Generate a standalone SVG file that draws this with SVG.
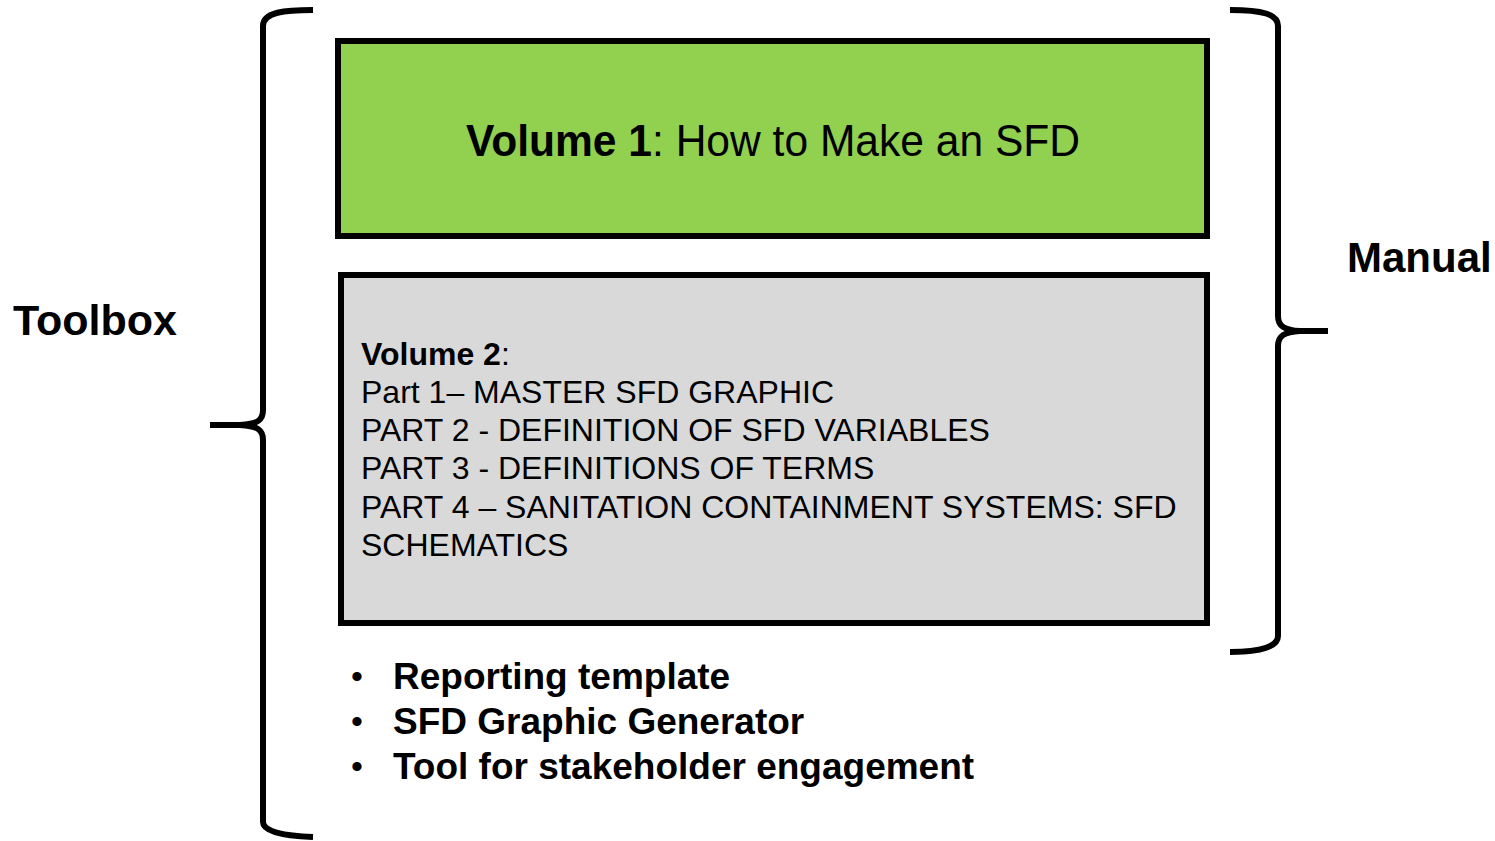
<svg xmlns="http://www.w3.org/2000/svg" width="1495" height="841" viewBox="0 0 1495 841">
<style>
.t{font-family:"Liberation Sans",Arial,sans-serif;fill:#000}
.b{font-weight:bold}
.box{stroke:#000;stroke-width:6}
.brace{fill:none;stroke:#000;stroke-width:6;stroke-linecap:butt;stroke-linejoin:round}
.v2{font-size:32px}
.bl{font-size:37px}
</style>
<rect width="1495" height="841" fill="#fff"/>
<g id="connectors">
<path class="brace" d="M313,10 C285,10 263,12 263,26 L263,410 C263,420 258,424 240,425 L210,425 M240,425 C258,426 263,430 263,440 L263,822 C263,832 285,836 313,837"/>
<path class="brace" d="M1230,10 C1262,10 1278,14 1278,26 L1278,316 C1278,326 1284,330 1300,331 L1328,331 M1300,331 C1284,332 1278,336 1278,346 L1278,636 C1278,646 1262,652 1230,652"/>
</g>
<g id="volume1">
<rect class="box" x="338" y="41" width="869" height="195" fill="#92d050"/>
<text class="t" x="466" y="156" font-size="44" textLength="614" lengthAdjust="spacingAndGlyphs"><tspan class="b">Volume 1</tspan>: How to Make an SFD</text>
</g>
<g id="volume2">
<rect class="box" x="341" y="275" width="866" height="348" fill="#d9d9d9"/>
<text class="t v2" x="361" y="365"><tspan class="b">Volume 2</tspan>:</text>
<text class="t v2" x="361" y="403">Part 1– MASTER SFD GRAPHIC</text>
<text class="t v2" x="361" y="441">PART 2 - DEFINITION OF SFD VARIABLES</text>
<text class="t v2" x="361" y="479">PART 3 - DEFINITIONS OF TERMS</text>
<text class="t v2" x="361" y="518">PART 4 – SANITATION CONTAINMENT SYSTEMS: SFD</text>
<text class="t v2" x="361" y="556">SCHEMATICS</text>
</g>
<g id="toolbox">
<text class="t b" x="13" y="335" font-size="43">Toolbox</text>
</g>
<g id="manual">
<text class="t b" x="1347" y="272" font-size="42">Manual</text>
</g>
<g id="tools">
<text class="t" x="351" y="688" font-size="34">•</text>
<text class="t b bl" x="393" y="689">Reporting template</text>
<text class="t" x="351" y="733" font-size="34">•</text>
<text class="t b bl" x="393" y="734">SFD Graphic Generator</text>
<text class="t" x="351" y="778" font-size="34">•</text>
<text class="t b bl" x="393" y="779">Tool for stakeholder engagement</text>
</g>
</svg>
